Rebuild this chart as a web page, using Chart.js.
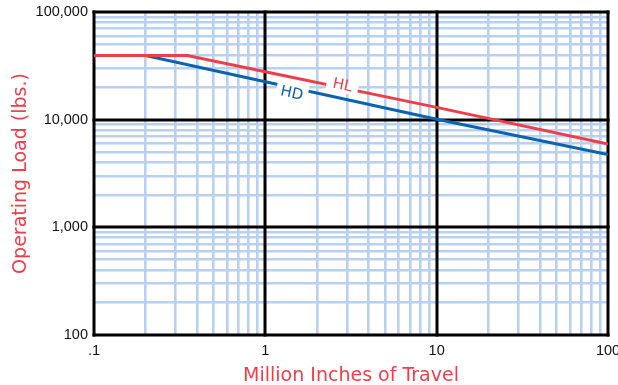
<!DOCTYPE html>
<html>
<head>
<meta charset="utf-8">
<script src="https://cdn.jsdelivr.net/npm/chart.js@4"></script>
<style>
  html, body { margin: 0; padding: 0; background: #fff; }
  #wrap { width: 618px; height: 385px; position: relative; }
</style>
</head>
<body>
<div id="wrap"><canvas id="loadChart"></canvas></div>
<script>
// ── data ──
const hlTravel = [0.1, 0.35, 1, 10, 100];
const hlLoad   = [39500, 39500, 27900, 13000, 5950];
const hdTravel = [0.1, 0.2, 1, 10, 100];
const hdLoad   = [39500, 39500, 22500, 10100, 4750];

// decades get a black line and a label, the rest are light blue
const xDecades = [0.1, 1, 10, 100];
const xDecadeLabels = ['.1', '1', '10', '100'];
const yDecades = [100, 1000, 10000, 100000];
const yDecadeLabels = ['100', '1,000', '10,000', '100,000'];
const minorSteps = [2, 3, 4, 5, 6, 7, 8, 9];

const RED = '#ee3e4c';
const BLUE = '#0a64ad';
const MINOR = '#b9d0ee';

function gridValues(decades) {
  const vals = [];
  decades.forEach((d, i) => {
    vals.push(d);
    if (i < decades.length - 1) minorSteps.forEach(s => vals.push(+(d * s).toPrecision(6)));
  });
  return vals;
}
const xGrid = gridValues(xDecades);
const yGrid = gridValues(yDecades);

function isDecade(v, decades) { return decades.some(d => Math.abs(d - v) / d < 1e-6); }
function decadeLabel(v, decades, labels) {
  const i = decades.findIndex(d => Math.abs(d - v) / d < 1e-6);
  return i >= 0 ? labels[i] : '';
}

// labels sitting on the lines, with a white gap cut into the line
const lineLabels = [
  { dataset: 0, text: 'HL', at: 2.8, dy: -2, gap: 32, color: RED },
  { dataset: 1, text: 'HD', at: 1.45, dy: 6, gap: 32, color: BLUE }
];

const majorLines = {
  id: 'majorLines',
  beforeDatasetsDraw(chart) {
    const { ctx, chartArea: a, scales: { x, y } } = chart;
    ctx.save();
    ctx.strokeStyle = '#000';
    ctx.lineWidth = 3;
    ctx.lineCap = 'square';
    xDecades.forEach(v => {
      const px = Math.round(x.getPixelForValue(v));
      ctx.beginPath(); ctx.moveTo(px, a.top); ctx.lineTo(px, a.bottom); ctx.stroke();
    });
    yDecades.forEach(v => {
      const py = Math.round(y.getPixelForValue(v));
      ctx.beginPath(); ctx.moveTo(a.left, py); ctx.lineTo(a.right, py); ctx.stroke();
    });
    ctx.restore();
  }
};

const onLineLabels = {
  id: 'onLineLabels',
  afterDatasetsDraw(chart) {
    const { ctx, scales: { x, y } } = chart;
    lineLabels.forEach(lb => {
      const pts = chart.data.datasets[lb.dataset].data;
      let k = 0;
      while (k < pts.length - 2 && pts[k + 1].x < lb.at) k++;
      const p0 = pts[k], p1 = pts[k + 1];
      const t = (Math.log(lb.at) - Math.log(p0.x)) / (Math.log(p1.x) - Math.log(p0.x));
      const val = Math.exp(Math.log(p0.y) + t * (Math.log(p1.y) - Math.log(p0.y)));
      const px = x.getPixelForValue(lb.at), py = y.getPixelForValue(val);
      const ang = Math.atan2(y.getPixelForValue(p1.y) - y.getPixelForValue(p0.y),
                             x.getPixelForValue(p1.x) - x.getPixelForValue(p0.x));
      ctx.save();
      ctx.translate(px, py);
      ctx.rotate(ang);
      ctx.fillStyle = '#fff';
      ctx.fillRect(-lb.gap / 2, -5, lb.gap, 10);
      ctx.fillStyle = lb.color;
      ctx.font = '15px "DejaVu Sans"';
      ctx.textAlign = 'center';
      ctx.textBaseline = 'middle';
      ctx.fillText(lb.text, 0, lb.dy);
      ctx.restore();
    });
  }
};

const toPoints = (xs, ys) => xs.map((v, i) => ({ x: v, y: ys[i] }));

new Chart(document.getElementById('loadChart'), {
  type: 'line',
  data: {
    datasets: [
      { label: 'HL', data: toPoints(hlTravel, hlLoad), borderColor: RED, borderWidth: 3, pointRadius: 0, tension: 0 },
      { label: 'HD', data: toPoints(hdTravel, hdLoad), borderColor: BLUE, borderWidth: 3, pointRadius: 0, tension: 0 }
    ]
  },
  options: {
    responsive: true,
    maintainAspectRatio: false,
    animation: false,
    layout: { padding: { top: 12, right: 10, left: 0, bottom: 0 } },
    plugins: { legend: { display: false }, tooltip: { enabled: false } },
    scales: {
      x: {
        type: 'logarithmic',
        min: 0.1,
        max: 100,
        afterBuildTicks: s => { s.ticks = xGrid.map(v => ({ value: v })); },
        afterFit: s => { s.height = 50; s.paddingLeft = 0; s.paddingRight = 0; },
        border: { display: false },
        grid: {
          drawTicks: false,
          lineWidth: 2.6,
          color: c => (c.tick && isDecade(c.tick.value, xDecades)) ? 'rgba(0,0,0,0)' : MINOR
        },
        ticks: {
          autoSkip: false,
          maxRotation: 0,
          padding: 7,
          color: '#111',
          font: { family: '"Liberation Sans", Arial, sans-serif', size: 14.5 },
          callback: v => decadeLabel(v, xDecades, xDecadeLabels)
        },
        title: {
          display: true,
          text: 'Million Inches of Travel',
          color: RED,
          font: { family: '"DejaVu Sans"', size: 19 },
          padding: { top: 0, bottom: -2 }
        }
      },
      y: {
        type: 'logarithmic',
        min: 100,
        max: 100000,
        afterBuildTicks: s => { s.ticks = yGrid.map(v => ({ value: v })); },
        afterFit: s => { s.width = 94; s.paddingTop = 0; s.paddingBottom = 0; },
        border: { display: false },
        grid: {
          drawTicks: false,
          lineWidth: 2.6,
          color: c => (c.tick && isDecade(c.tick.value, yDecades)) ? 'rgba(0,0,0,0)' : MINOR
        },
        ticks: {
          autoSkip: false,
          padding: 6,
          color: '#111',
          font: { family: '"Liberation Sans", Arial, sans-serif', size: 14.5 },
          callback: v => decadeLabel(v, yDecades, yDecadeLabels)
        },
        title: {
          display: true,
          text: 'Operating Load (lbs.)',
          color: RED,
          font: { family: '"DejaVu Sans"', size: 19 },
          padding: { top: 10, bottom: 0 }
        }
      }
    }
  },
  plugins: [majorLines, onLineLabels]
});
</script>
</body>
</html>
